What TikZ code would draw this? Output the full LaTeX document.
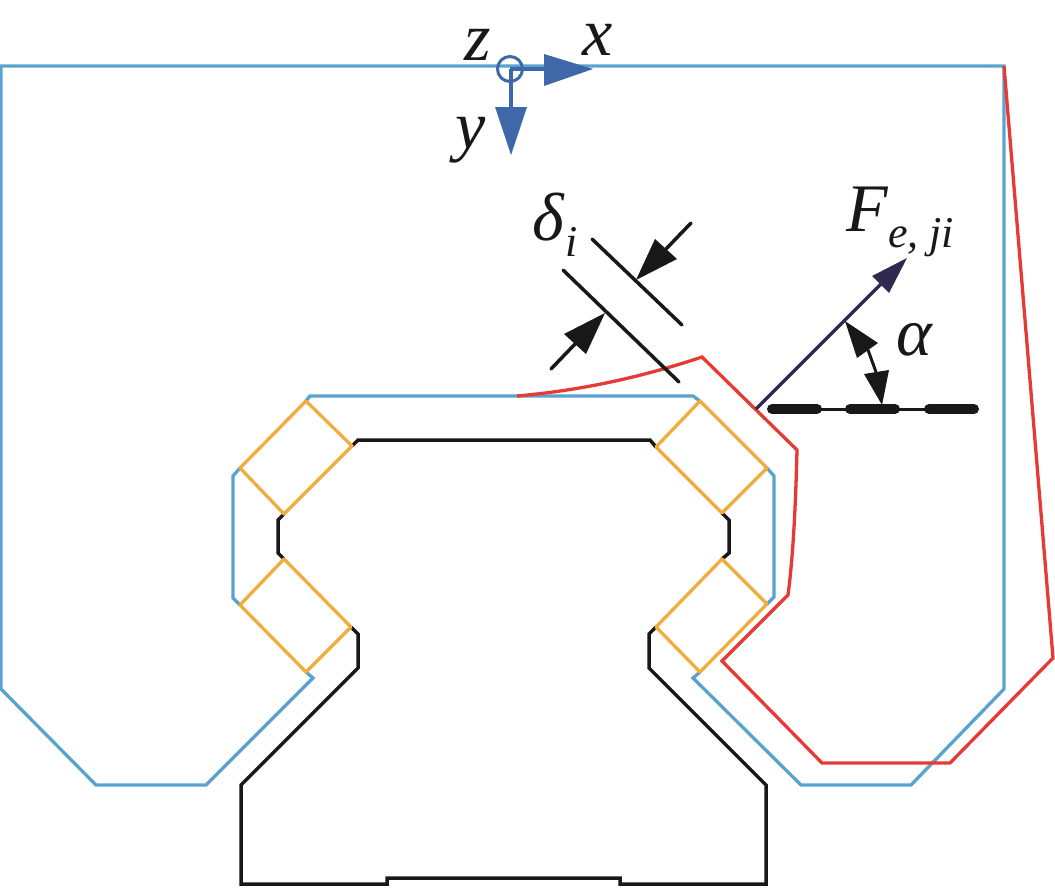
\documentclass[tikz,border=0pt]{standalone}
\usepackage{fontspec}
\setmainfont{Liberation Serif}
\definecolor{cblue}{HTML}{5BA3CF}
\definecolor{cred}{HTML}{E63A35}
\definecolor{corange}{HTML}{F0AC3C}
\definecolor{cblack}{HTML}{1A1718}
\definecolor{caxis}{HTML}{3F68A8}
\definecolor{cforce}{HTML}{2F2A50}
\tikzset{
  bl/.style={draw=cblue,line width=3.3pt,line join=miter},
  rd/.style={draw=cred,line width=3.3pt,line join=miter},
  og/.style={draw=corange,line width=3.3pt,line join=round},
  bk/.style={draw=cblack,line width=3.5pt,line join=miter},
  lbl/.style={inner sep=0pt,anchor=base,text=cblack,font=\fontsize{68}{68}\selectfont\itshape},
  sublbl/.style={inner sep=0pt,anchor=base,text=cblack,font=\fontsize{44}{44}\selectfont\itshape},
  thinbk/.style={draw=cblack,line width=3.5pt,line cap=round},
  headbk/.style={fill=cblack,draw=none},
}
\begin{document}
\begin{tikzpicture}[x=1pt,y=-1pt]
\useasboundingbox (0,0) rectangle (1055,887);
% housing outline, blue
\draw[bl] (517,396) -- (310,396) -- (306,401);
\draw[bl] (517,396) -- (693,396) -- (700,401);
\draw[bl] (767,468) -- (774,476) -- (774,597) -- (767,604);
\draw[bl] (700,672) -- (693,678) -- (801,785) -- (911,785) -- (1004,689) -- (1004,66) -- (1,66) -- (1,689) -- (96,785) -- (206,785) -- (313,678) -- (306,672);
\draw[bl] (240,605) -- (233,598) -- (233,476) -- (240,468);
% rail, black
\draw[bk] (352,446) -- (358,440) -- (650,440) -- (656,447);
\draw[bk] (722,513) -- (729,520) -- (729,553) -- (722,559);
\draw[bk] (656,627) -- (649,634) -- (649,668) -- (766,785) -- (766,884) -- (620,884) -- (620,878) -- (387,878) -- (387,884) -- (241,884) -- (241,785) -- (358,668) -- (358,634) -- (351,627);
\draw[bk] (284,559) -- (278,553) -- (278,520) -- (284,514);
% rollers, orange
\draw[og] (306,401) -- (352,446) -- (284,514) -- (240,468) -- cycle;
\draw[og] (240,605) -- (284,559) -- (351,627) -- (306,672) -- cycle;
\draw[og] (700,401) -- (767,468) -- (722,513) -- (656,447) -- cycle;
\draw[og] (656,627) -- (722,559) -- (767,604) -- (700,672) -- cycle;
% deformed outline, red
\draw[rd] (517,396) .. controls (585,390) and (645,376) .. (702,357) -- (797,450) .. controls (796,490) and (794,550) .. (788,595) -- (722,661) -- (822,763) -- (950,763) -- (1053,658) -- (1004,66);
% axes
\coordinate (o) at (510,69);
\node[draw=caxis,line width=3pt,circle,minimum size=25pt,inner sep=0pt] (zc) at (o) {};
\coordinate (xb) at (545,69);
\coordinate (yb) at (511,108);
\draw[caxis,line width=3.5pt] (o) -- (xb);
\draw[caxis,line width=3.5pt] (o) ++(1,0) -- (yb);
\fill[caxis] (544,54) -- (593,69) -- (544,86) -- cycle;
\fill[caxis] (495,107) -- (511,155) -- (527,107) -- cycle;
\node[lbl] (zl) at (478,60) {z};
\node[lbl] (xl) at (598,55) {x};
\node[lbl] (yl) at (471,148) {y};
% clearance
\coordinate (d1a) at (592,239); \coordinate (d1b) at (682,325);
\coordinate (d2a) at (563,270); \coordinate (d2b) at (679,382);
\draw[thinbk] (d1a) -- (d1b);
\draw[thinbk] (d2a) -- (d2b);
\coordinate (a1t) at (691,223); \coordinate (a1b) at (666,249);
\coordinate (a2t) at (551,369); \coordinate (a2b) at (575,344);
\draw[thinbk] (a1t) -- (a1b);
\draw[thinbk] (a2t) -- (a2b);
\fill[headbk] (636,280) -- (655,239) -- (677,259) -- cycle;
\fill[headbk] (605,313) -- (564,334) -- (586,354) -- cycle;
\node[lbl] (dl) at (548,240) {δ};
\node[sublbl] (di) at (572,256) {i};
% force
\coordinate (f0) at (756,409);
\coordinate (f1) at (881,284);
\draw[cforce,line width=3.3pt] (f0) -- (f1);
\fill[cforce] (907,258) -- (872,276) -- (889,293) -- cycle;
\node[lbl] (fl) at (867,231) {F};
\node[sublbl] (fs) at (921,247) {e, ji};
% reference dash-dot line
\coordinate (c0) at (772,409); \coordinate (c1) at (974,409);
\draw[cblack,line width=3pt] (c0) -- (c1);
\draw[cblack,line width=10pt,line cap=round] (772,409) -- (817,409);
\draw[cblack,line width=10pt,line cap=round] (850,409) -- (895,409);
\draw[cblack,line width=10pt,line cap=round] (929,409) -- (974,409);
% angle
\coordinate (ang1) at (868,350); \coordinate (ang2) at (876,372);
\draw[cblack,line width=3pt] (ang1) -- (ang2);
\fill[headbk] (845,321) -- (878,343) -- (857,358) -- cycle;
\fill[headbk] (882,405) -- (864,374) -- (889,370) -- cycle;
\node[lbl] (al) at (914,355) {α};
\end{tikzpicture}
\end{document}
